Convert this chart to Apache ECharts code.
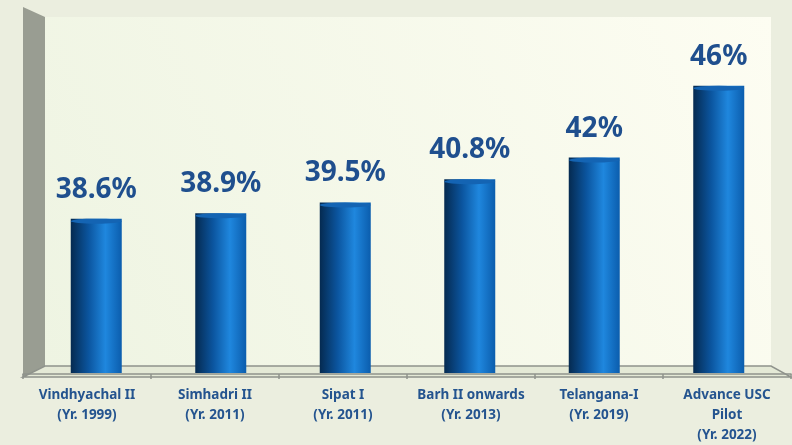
<!DOCTYPE html>
<html>
<head>
<meta charset="utf-8">
<script src="https://cdn.jsdelivr.net/npm/echarts@6/dist/echarts.min.js"></script>
<style>
  html, body { margin: 0; padding: 0; background: #ebeedf; }
  #chart { width: 792px; height: 445px; }
</style>
</head>
<body>
<div id="chart"></div>
<script>
const categories = [
  "Vindhyachal II\n(Yr. 1999)",
  "Simhadri II\n(Yr. 2011)",
  "Sipat I\n(Yr. 2011)",
  "Barh II onwards\n(Yr. 2013)",
  "Telangana-I\n(Yr. 2019)",
  "Advance USC\nPilot\n(Yr. 2022)",
];
const efficiency = [38.6, 38.9, 39.5, 40.8, 42, 46];
const valueLabels = ["38.6%", "38.9%", "39.5%", "40.8%", "42%", "46%"];

const chart = echarts.init(document.getElementById("chart"));

const barFill = new echarts.graphic.LinearGradient(0, 0, 1, 0, [
  { offset: 0, color: "#052a50" },
  { offset: 0.35, color: "#0b559f" },
  { offset: 0.68, color: "#1f87de" },
  { offset: 1, color: "#0b5dad" },
]);

const option = {
  animation: false,
  backgroundColor: "#ebeedf",
  textStyle: { fontFamily: "Noto Sans" },
  graphic: [
    // back wall
    {
      type: "rect", z: -10, silent: true,
      shape: { x: 45, y: 17, width: 726, height: 349 },
      style: {
        fill: new echarts.graphic.LinearGradient(0, 1, 1, 0, [
          { offset: 0, color: "#eef4e2" },
          { offset: 1, color: "#fdfdf2" },
        ]),
      },
    },
    // left wall
    {
      type: "polygon", z: -9, silent: true,
      shape: { points: [[23, 7], [45, 17], [45, 366], [23, 377]] },
      style: { fill: "#999d92" },
    },
    // floor
    {
      type: "polygon", z: -9, silent: true,
      shape: { points: [[45, 366], [771, 366], [791, 377], [23, 377]] },
      style: { fill: "#e4e9d6", stroke: "#8f938c", lineWidth: 1.5 },
    },
  ],
  grid: [
    { left: 34, right: 11, top: 14, bottom: 72 },
    { left: 23, right: 1, top: 14, bottom: 67 },
  ],
  xAxis: [
    {
      type: "category", gridIndex: 0, data: categories,
      axisLine: { show: false }, axisTick: { show: false }, axisLabel: { show: false },
    },
    {
      type: "category", gridIndex: 1, data: categories,
      axisLine: { lineStyle: { color: "#8f938c", width: 1.5 } },
      axisTick: { show: true, length: 5, lineStyle: { color: "#8f938c", width: 1.5 } },
      axisLabel: {
        color: "#24548f", fontWeight: "bold", fontSize: 13.5, lineHeight: 20,
        margin: 11, interval: 0,
      },
    },
  ],
  yAxis: [
    {
      type: "value", gridIndex: 0, min: 30, max: 50,
      show: false, splitLine: { show: false },
    },
    { type: "value", gridIndex: 1, show: false, splitLine: { show: false } },
  ],
  series: [
    {
      type: "bar",
      xAxisIndex: 0, yAxisIndex: 0,
      data: efficiency,
      barWidth: 51,
      itemStyle: { color: barFill },
      label: {
        show: true, position: "top", distance: 15,
        formatter: (p) => valueLabels[p.dataIndex],
        color: "#1f4f8e", fontSize: 28, fontWeight: "bold",
      },
    },
    {
      type: "pictorialBar",
      xAxisIndex: 0, yAxisIndex: 0,
      data: efficiency,
      symbol: "circle",
      symbolSize: [51, 5],
      symbolPosition: "end",
      z: 3,
      itemStyle: { color: "#1464b3" },
    },
  ],
};

chart.setOption(option);
</script>
</body>
</html>
